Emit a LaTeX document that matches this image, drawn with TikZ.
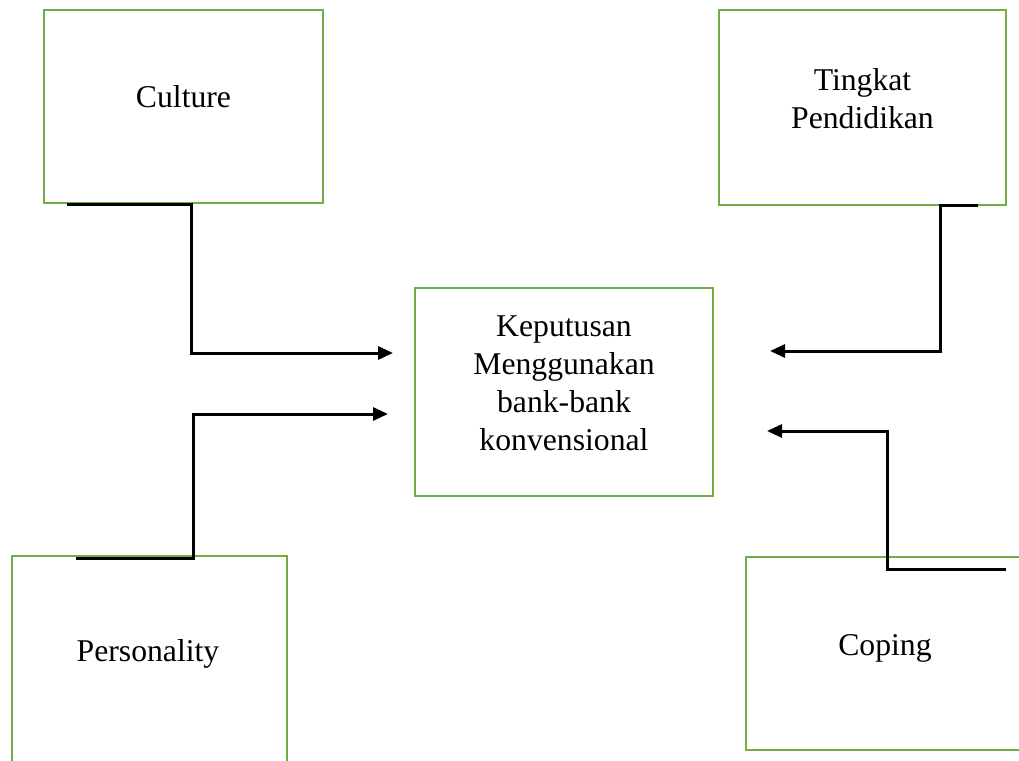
\documentclass[tikz,border=0pt]{standalone}
\usepackage{fontspec}
\setmainfont{Liberation Serif}
\usetikzlibrary{arrows.meta,calc}
\definecolor{boxgreen}{RGB}{112,173,71}
\begin{document}
\begin{tikzpicture}[x=1pt,y=-1pt,
  gbox/.style={draw=boxgreen,line width=2.5pt,rectangle,inner sep=0pt,outer sep=0pt},
  lbl/.style={font=\fontsize{31.7}{38}\selectfont,anchor=base,inner sep=0pt,align=center},
  conn/.style={line width=3pt,-{Triangle[length=15pt,width=13pt]}}]
\useasboundingbox (0,0) rectangle (1019,760);
\fill[white] (0,0) rectangle (1019,760);
\node[gbox,minimum width=279pt,minimum height=193pt] (culture) at (183.5,106.5) {};
\node[gbox,minimum width=287pt,minimum height=195pt] (tingkat) at (862.5,107.5) {};
\node[gbox,minimum width=298pt,minimum height=208pt] (keput) at (564,392) {};
\node[gbox,minimum width=275pt,minimum height=234pt] (person) at (149.5,673) {};
\node[gbox,minimum width=294pt,minimum height=193pt] (coping) at (893,653.5) {};
\node[lbl] (tculture) at (183.5,107) {Culture};
\node[lbl] (ttingkat) at (862.5,128) {Tingkat\\Pendidikan};
\node[lbl] (tkeput) at (564,450) {Keputusan\\Menggunakan\\bank-bank\\konvensional};
\node[lbl] (tperson) at (148,661) {Personality};
\node[lbl] (tcoping) at (885,655) {Coping};
% connectors
\coordinate (c1s) at ($(culture.south west)+(23,1)$);
\coordinate (c1k) at ($(culture.south west)+(147,1)$);
\coordinate (c1e) at ($(keput.west)+(-22,-39)$);
\coordinate (c2s) at ($(person.north west)+(64,2)$);
\coordinate (c2k) at ($(person.north west)+(181,2)$);
\coordinate (c2e) at ($(keput.west)+(-27,22)$);
\coordinate (c3s) at ($(tingkat.south west)+(259,0)$);
\coordinate (c3k) at ($(tingkat.south west)+(221,0)$);
\coordinate (c3e) at ($(keput.east)+(57,-41)$);
\coordinate (c4s) at ($(coping.north west)+(260,12)$);
\coordinate (c4k) at ($(coping.north west)+(141,12)$);
\coordinate (c4e) at ($(keput.east)+(54,39)$);
\draw[conn] (c1s) -- (c1k) |- (c1e);
\draw[conn] (c2s) -- (c2k) |- (c2e);
\draw[conn] (c3s) -- (c3k) |- (c3e);
\draw[conn] (c4s) -- (c4k) |- (c4e);
\end{tikzpicture}
\end{document}
